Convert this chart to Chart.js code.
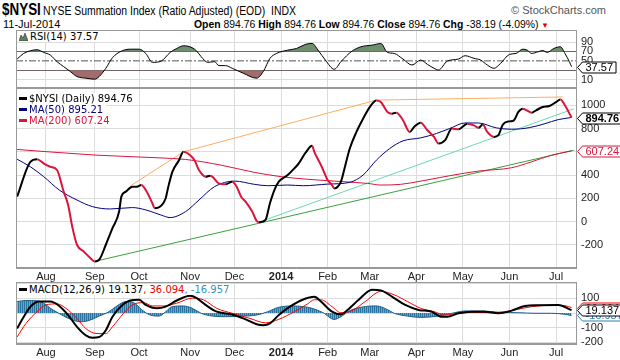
<!DOCTYPE html>
<html>
<head>
<meta charset="utf-8">
<script src="https://cdn.jsdelivr.net/npm/chart.js@4.4.1/dist/chart.umd.min.js"></script>
<style>
  body { margin: 0; background: #fff; width: 620px; height: 360px; overflow: hidden; position: relative; font-family: Arial, "Liberation Sans", sans-serif; color: #000; }
  canvas { position: absolute; left: 0; }
  .t { position: absolute; white-space: nowrap; transform-origin: left top; }
  .leg { position: absolute; white-space: nowrap; font: 10px "DejaVu Sans", Verdana, sans-serif; background: #fff; padding: 0 3px 0 2px; line-height: 11px; }
  .sw { display: inline-block; width: 8px; height: 3px; vertical-align: middle; margin-right: 2px; position: relative; top: -1px; }
</style>
</head>
<body>
<div class="t" style="left:2px;top:1px;font-weight:bold;font-size:16px;transform:scaleX(0.84);">$NYSI</div>
<div class="t" style="left:43px;top:4px;font-size:12px;transform:scaleX(0.87);">NYSE Summation Index (Ratio Adjusted) (EOD) &nbsp;INDX</div>
<div class="t" style="right:14px;top:4px;font-size:11px;color:#555;">&copy; StockCharts.com</div>
<div class="t" style="left:3px;top:18px;font-size:11px;">11-Jul-2014</div>
<div class="t" style="left:194px;top:18px;font-size:11px;transform:scaleX(0.945);"><b>Open</b> 894.76 <b>High</b> 894.76 <b>Low</b> 894.76 <b>Close</b> 894.76 <b>Chg</b> -38.19 (-4.09%) <span style="color:#d00;font-size:8px;">&#9660;</span></div>

<canvas id="rsi" width="620" height="58" style="top:30px"></canvas>
<canvas id="price" width="620" height="194" style="top:88px"></canvas>
<canvas id="macd" width="620" height="76" style="top:282px"></canvas>

<div class="leg" style="left:17px;top:31px;"><svg width="9" height="9" style="vertical-align:-1px;margin-right:2px"><polygon points="0,9 2,3 4,6 6,1 9,9" fill="#5f7f5f" stroke="#333" stroke-width="0.6"/></svg>RSI(14) 37.57</div>
<div class="leg" style="left:17px;top:93px;"><span class="sw" style="background:#000"></span>$NYSI (Daily) 894.76</div>
<div class="leg" style="left:17px;top:104px;color:#000080;"><span class="sw" style="background:#000080"></span>MA(50) 895.21</div>
<div class="leg" style="left:17px;top:115px;color:#dc143c;"><span class="sw" style="background:#dc143c"></span>MA(200) 607.24</div>
<div class="leg" style="left:17px;top:284px;"><span class="sw" style="background:#000"></span>MACD(12,26,9) 19.137<span style="color:#e00">, 36.094</span><span style="color:#3a8fc0">, -16.957</span></div>

<script>
// x = trading day index (0 = 12-Jul-2013)
const monthTicks = [14, 36, 56, 79, 99, 120, 141, 160, 181, 202, 223, 244];
const monthLabels = ['Aug', 'Sep', 'Oct', 'Nov', 'Dec', '2014', 'Feb', 'Mar', 'Apr', 'May', 'Jun', 'Jul'];

const nysiDays = [1, 7, 10, 13, 16, 19, 22, 24, 26, 28, 31, 34, 36, 38, 41, 44, 47, 48, 50, 53, 55, 57, 59, 62, 63, 66, 68, 69, 71, 74, 76, 79, 81, 83, 86, 88, 89, 92, 95, 98, 100, 102, 104, 107, 109, 110, 113, 115, 117, 119, 123, 126, 128, 131, 134, 135, 138, 139, 141, 143, 144, 147, 149, 151, 154, 157, 160, 163, 165, 168, 170, 172, 175, 178, 180, 183, 186, 189, 191, 194, 197, 200, 204, 207, 209, 211, 213, 216, 218, 220, 223, 225, 227, 229, 233, 235, 238, 241, 244, 246, 248, 251];
const nysiVals = [214, 514, 536, 500, 471, 443, 257, 142, -57, -200, -257, -314, -343, -329, -200, -57, 86, 214, 257, 300, 300, 314, 271, 157, 114, 137, 200, 285, 428, 528, 600, 571, 528, 443, 386, 394, 386, 328, 320, 343, 300, 214, 171, 86, 5, -6, 14, 157, 271, 343, 400, 457, 500, 590, 651, 600, 485, 443, 357, 314, 285, 343, 485, 628, 771, 885, 985, 1042, 1028, 943, 928, 937, 871, 771, 814, 851, 785, 728, 671, 700, 800, 794, 842, 828, 806, 834, 771, 728, 743, 834, 862, 871, 943, 971, 937, 957, 985, 994, 1028, 1051, 1000, 894.76];

const ma50Days = [1, 7, 13, 20, 28, 35, 43, 53, 59, 63, 66, 70, 77, 83, 90, 99, 108, 114, 123, 130, 141, 151, 157, 163, 169, 175, 183, 190, 196, 203, 209, 217, 224, 232, 239, 245, 251];
const ma50Vals = [536, 471, 386, 271, 185, 128, 108, 120, 100, 75, 55, 34, 86, 185, 300, 348, 320, 308, 314, 308, 322, 337, 400, 528, 628, 694, 720, 757, 800, 848, 848, 806, 794, 808, 842, 877, 895.21];

const ma200Days = [1, 37, 65, 77, 93, 108, 120, 131, 144, 159, 165, 174, 184, 196, 209, 224, 233, 242, 251];
const ma200Vals = [620, 571, 548, 534, 485, 423, 386, 365, 348, 328, 314, 320, 351, 394, 434, 463, 514, 571, 607.24];

const orangeDays = [52, 76, 163, 247];
const orangeVals = [305, 600, 1045, 1072];
const tealDays = [110, 252];
const tealVals = [-6, 970];
const greenDays = [36, 252];
const greenVals = [-343, 614];

const rsiDays = [1, 4, 7, 10, 13, 16, 19, 22, 25, 28, 32, 36, 38, 41, 44, 48, 52, 56, 59, 62, 66, 70, 73, 76, 80, 82, 84, 87, 90, 92, 95, 98, 103, 109, 112, 115, 118, 123, 127, 131, 134, 137, 140, 144, 147, 152, 156, 161, 165, 168, 171, 175, 179, 183, 186, 189, 191, 195, 200, 203, 207, 210, 213, 216, 219, 223, 226, 229, 231, 233, 236, 238, 240, 243, 246, 248, 250, 251];
const rsiVals = [53.8, 65.8, 71.5, 73.6, 67.9, 62.2, 48.3, 37.8, 27.3, 16.7, 13.2, 11.1, 16.7, 34.2, 56.7, 70.6, 74.8, 74.8, 65.8, 46.8, 49.6, 67.9, 76.3, 82, 77.8, 70.6, 58.8, 46.8, 48.3, 39.9, 39.9, 34.2, 23.7, 13.2, 27.3, 55.3, 65.8, 72.7, 76.3, 85, 87, 70.6, 51.7, 32.1, 48.3, 70.6, 79.9, 83.3, 86.8, 67.9, 65.8, 53.8, 41.2, 51.7, 42.6, 34.2, 30.6, 49.6, 53.8, 60.9, 55.3, 51.7, 41.2, 34.2, 44.7, 63.7, 65.8, 74.8, 72.7, 65.8, 69.4, 72.1, 67.9, 76.3, 79.9, 65.8, 48.3, 37.57];

const macdDays = [1, 4, 7, 11, 16, 20, 24, 28, 32, 35, 38, 41, 44, 48, 52, 56, 59, 64, 68, 73, 79, 82, 86, 91, 97, 103, 109, 112, 115, 119, 124, 130, 135, 138, 143, 147, 150, 155, 161, 165, 170, 176, 182, 188, 192, 195, 200, 206, 212, 218, 224, 230, 236, 245, 251];
const macdVals = [-106, -25, 43, 78, 78, 48, -14, -94, -152, -168, -163, -117, -25, 48, 85, 90, 55, 32, 43, 85, 117, 101, 55, 9, -7, -37, -76, -83, -71, -14, 43, 92, 110, 78, 9, -9, 21, 90, 159, 154, 112, 55, 21, 9, -25, -25, -2, 9, 9, -2, 16, 48, 53, 55, 19.137];

const signalDays = [1, 5, 10, 14, 19, 23, 28, 32, 37, 41, 44, 49, 53, 58, 62, 67, 73, 80, 85, 91, 98, 106, 113, 119, 126, 132, 135, 138, 143, 147, 152, 158, 165, 171, 177, 183, 189, 194, 200, 206, 215, 221, 227, 233, 242, 248, 251];
const signalVals = [-163, -71, 9, 55, 62, 32, -37, -106, -140, -140, -94, -2, 55, 71, 48, 48, 67, 101, 90, 32, -2, -37, -67, -43, 9, 62, 90, 90, 43, 2, 16, 78, 147, 124, 78, 32, 9, -14, -2, 5, 2, 9, 26, 43, 53, 50, 36.094];

const histDays = [1, 5, 10, 13, 16, 19, 22, 26, 30, 34, 38, 42, 46, 50, 54, 57, 61, 65, 68, 71, 76, 80, 84, 89, 95, 103, 109, 114, 119, 126, 132, 134, 139, 144, 147, 151, 158, 163, 168, 171, 177, 183, 191, 197, 203, 211, 218, 227, 235, 242, 248, 251];
const histVals = [78, 85, 83, 67, 32, 5, -21, -48, -60, -48, -21, 5, 48, 78, 67, 25, -14, -21, 9, 44, 48, 32, -2, -21, -25, -21, -14, 9, 39, 48, 39, 32, 2, -44, -25, 16, 44, 48, 23, -2, -21, -30, -21, -2, 14, 14, 5, 2, -2, -2, -9, -16.957];

const rsiTicks = [10, 30, 50, 70, 90];
const priceTicks = [-200, 0, 200, 400, 600, 800, 1000];
const macdTicks = [-200, -100, 0, 100, 200];

const X_MIN = 0.5, X_MAX = 253;

function pts(days, vals) {
  return days.map((d, i) => ({ x: d, y: vals[i] }));
}

// striped fill so the histogram area reads like thin daily bars
function stripes() {
  const c = document.createElement('canvas');
  c.width = 2; c.height = 1;
  const g = c.getContext('2d');
  g.fillStyle = '#2c73a0'; g.fillRect(0, 0, 1, 1);
  g.fillStyle = '#62aad4'; g.fillRect(1, 0, 1, 1);
  return g.createPattern(c, 'repeat');
}

function xAxis(showLabels) {
  return {
    type: 'linear', min: X_MIN, max: X_MAX,
    afterBuildTicks: s => { s.ticks = monthTicks.map(v => ({ value: v })); },
    afterFit: s => { s.height = showLabels ? 14 : 0; s.paddingLeft = 0; s.paddingRight = 0; },
    grid: { color: '#dcdcdc', drawTicks: false },
    border: { color: '#999' },
    ticks: {
      display: showLabels, autoSkip: false, maxRotation: 0, padding: 2, color: '#222',
      font: c => ({ family: 'Arial', size: 11, weight: monthTicks[c.index] === 120 ? 'bold' : 'normal' }),
      callback: (v, i) => monthLabels[i]
    }
  };
}

function yAxis(min, max, ticks, hideLabel) {
  return {
    position: 'right', min: min, max: max,
    afterBuildTicks: s => { s.ticks = ticks.map(v => ({ value: v })); },
    afterFit: s => { s.width = 44; s.paddingTop = 0; s.paddingBottom = 0; },
    grid: { color: '#dcdcdc', drawTicks: false },
    border: { color: '#999' },
    ticks: {
      autoSkip: false, padding: 5, color: '#222', font: { family: 'Arial', size: 11 },
      callback: v => (hideLabel && hideLabel.includes(v)) ? '' : v
    }
  };
}

// panel frame and value tags on the right
const panelPlugin = {
  id: 'panel',
  afterDraw(chart, args, opts) {
    const ctx = chart.ctx, a = chart.chartArea;
    ctx.save();
    ctx.strokeStyle = '#999';
    ctx.lineWidth = 1;
    ctx.strokeRect(Math.floor(a.left) + 0.5, Math.floor(a.top) + 0.5, Math.round(a.right - a.left), Math.round(a.bottom - a.top) - 1);
    (opts.tags || []).forEach(t => {
      const y = Math.round(chart.scales.y.getPixelForValue(t.value)) + 0.5;
      ctx.font = (t.bold ? 'bold ' : '') + '11px Arial';
      const w = ctx.measureText(t.text).width + 6;
      const x0 = a.right + 1.5, h = 11;
      ctx.beginPath();
      ctx.moveTo(x0, y);
      ctx.lineTo(x0 + 5, y - h / 2);
      ctx.lineTo(x0 + 5 + w, y - h / 2);
      ctx.lineTo(x0 + 5 + w, y + h / 2);
      ctx.lineTo(x0 + 5, y + h / 2);
      ctx.closePath();
      ctx.fillStyle = '#fff';
      ctx.fill();
      ctx.strokeStyle = t.color;
      ctx.stroke();
      ctx.fillStyle = t.color;
      ctx.textBaseline = 'middle';
      ctx.fillText(t.text, x0 + 8, y + 0.5);
    });
    ctx.restore();
  }
};

const base = {
  responsive: false, animation: false, devicePixelRatio: 1,
  layout: { padding: { left: 16, right: 0, top: 0, bottom: 0 } },
  elements: { point: { radius: 0 }, line: { cubicInterpolationMode: 'monotone' } },
  plugins: { legend: { display: false }, tooltip: { enabled: false } }
};

// RSI
new Chart(document.getElementById('rsi'), {
  type: 'line',
  plugins: [panelPlugin],
  data: {
    datasets: [
      { data: pts(rsiDays, rsiVals), borderColor: '#000', borderWidth: 1, order: 0 },
      { data: pts([X_MIN, X_MAX], [50, 50]), borderColor: '#555', borderWidth: 1, borderDash: [7, 2, 2, 2], order: 1 },
      { data: pts(rsiDays, rsiVals), borderColor: 'transparent', borderWidth: 0, fill: { target: { value: 70 }, above: '#6e8e6e', below: 'transparent' }, order: 2 },
      { data: pts(rsiDays, rsiVals), borderColor: 'transparent', borderWidth: 0, fill: { target: { value: 30 }, above: 'transparent', below: '#a26c6c' }, order: 3 }
    ]
  },
  options: Object.assign({}, base, {
    scales: {
      x: xAxis(false),
      y: Object.assign(yAxis(-7.6, 115.5, rsiTicks), {
        grid: { drawTicks: false, color: c => (c.tick.value === 70 || c.tick.value === 30) ? '#666' : (c.tick.value === 50 ? 'transparent' : '#dcdcdc') }
      })
    },
    plugins: Object.assign({}, base.plugins, { panel: { tags: [{ value: 37.57, text: '37.57', color: '#000' }] } })
  })
});

// Price
new Chart(document.getElementById('price'), {
  type: 'line',
  plugins: [panelPlugin],
  data: {
    datasets: [
      {
        data: pts(nysiDays, nysiVals), borderWidth: 2, borderColor: '#000', order: 0,
        segment: { borderColor: c => c.p1.parsed.y >= c.p0.parsed.y ? '#000' : '#dc143c' }
      },
      { data: pts(ma50Days, ma50Vals), borderColor: '#000080', borderWidth: 1, order: 1 },
      { data: pts(ma200Days, ma200Vals), borderColor: '#dc143c', borderWidth: 1, order: 2 },
      { data: pts(orangeDays, orangeVals), borderColor: '#ffad60', borderWidth: 1, tension: 0, cubicInterpolationMode: 'default', order: 3 },
      { data: pts(tealDays, tealVals), borderColor: '#6ad8b4', borderWidth: 1, tension: 0, order: 4 },
      { data: pts(greenDays, greenVals), borderColor: '#3aa03a', borderWidth: 1, tension: 0, order: 5 }
    ]
  },
  options: Object.assign({}, base, {
    scales: { x: xAxis(true), y: yAxis(-400, 1149, priceTicks) },
    plugins: Object.assign({}, base.plugins, {
      panel: {
        tags: [
          { value: 607.24, text: '607.24', color: '#dc143c' },
          { value: 894.76, text: '894.76', color: '#000', bold: true }
        ]
      }
    })
  })
});

// MACD
const histFill = stripes();
new Chart(document.getElementById('macd'), {
  type: 'line',
  plugins: [panelPlugin],
  data: {
    datasets: [
      { data: pts(macdDays, macdVals), borderColor: '#000', borderWidth: 2, order: 0 },
      { data: pts(signalDays, signalVals), borderColor: '#f00', borderWidth: 1, order: 1 },
      { data: pts(histDays, histVals), borderColor: '#1d5f86', borderWidth: 1, fill: { target: 'origin', above: histFill, below: histFill }, order: 2 }
    ]
  },
  options: Object.assign({}, base, {
    scales: { x: xAxis(true), y: yAxis(-211, 211, macdTicks, [200]) },
    plugins: Object.assign({}, base.plugins, {
      panel: {
        tags: [
          { value: -16.957, text: '-16.957', color: '#2f7fae' },
          { value: 36.094, text: '36.094', color: '#f00' },
          { value: 19.137, text: '19.137', color: '#000' }
        ]
      }
    })
  })
});
</script>
</body>
</html>
